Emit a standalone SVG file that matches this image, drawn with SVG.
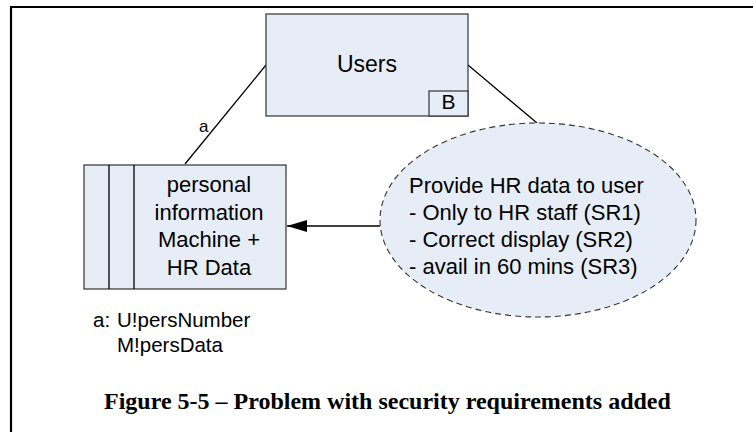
<svg xmlns="http://www.w3.org/2000/svg" width="753" height="432" viewBox="0 0 753 432">
<style>
.box{fill:#E7EDF6;stroke:#333;stroke-width:1.2}
.ln{stroke:#000;stroke-width:1.3;fill:none}
.t{font-family:"Liberation Sans",Arial,sans-serif;font-size:22px;fill:#000}
.s{font-family:"Liberation Sans",Arial,sans-serif;font-size:17px;fill:#000}
.n{font-family:"Liberation Sans",Arial,sans-serif;font-size:20.5px;fill:#000}
.cap{font-family:"Liberation Serif","Times New Roman",serif;font-size:24px;font-weight:bold;fill:#000}
</style>
<defs>
<marker id="ah" markerWidth="20" markerHeight="12" refX="20" refY="6" orient="auto" markerUnits="userSpaceOnUse">
<path d="M0,0 L20,6 L0,12 Z" fill="#000"/>
</marker>
</defs>
<rect width="753" height="432" fill="#fff"/>
<path d="M11,432 V7 H753" fill="none" stroke="#000" stroke-width="2.2"/>
<g id="connectors">
<line class="ln" x1="266" y1="65" x2="185" y2="164"/>
<line class="ln" x1="468" y1="65" x2="537" y2="123"/>
<line class="ln" x1="380" y1="226" x2="287" y2="226" marker-end="url(#ah)"/>
<text class="s" x="199" y="132">a</text>
</g>
<g id="users">
<rect class="box" x="266" y="14" width="202" height="102"/>
<text class="t" x="367" y="72" text-anchor="middle" style="font-size:23px">Users</text>
<rect class="box" x="429" y="91" width="39" height="25"/>
<text class="t" x="448.5" y="109" text-anchor="middle" style="font-size:21px">B</text>
</g>
<g id="machine">
<rect class="box" x="84" y="165" width="202" height="124"/>
<line class="ln" x1="109" y1="165" x2="109" y2="289" stroke="#333"/>
<line class="ln" x1="134" y1="165" x2="134" y2="289" stroke="#333"/>
<text class="t" text-anchor="middle"><tspan x="209" y="192">personal</tspan><tspan x="209" y="219.5">information</tspan><tspan x="209" y="247">Machine +</tspan><tspan x="209" y="275">HR Data</tspan></text>
</g>
<g id="requirement">
<ellipse cx="538" cy="220" rx="158" ry="97" fill="#E7EDF6" stroke="#333" stroke-width="1.1" stroke-dasharray="6,4"/>
<text class="t"><tspan x="409" y="193">Provide HR data to user</tspan><tspan x="409" y="220">- Only to HR staff (SR1)</tspan><tspan x="409" y="247">- Correct display (SR2)</tspan><tspan x="409" y="274">- avail in 60 mins (SR3)</tspan></text>
</g>
<g id="annotation">
<text class="n" x="93" y="327">a: <tspan x="117">U!persNumber</tspan></text>
<text class="n" x="117" y="352">M!persData</text>
</g>
<text class="cap" x="104" y="409">Figure 5-5 – Problem with security requirements added</text>
</svg>
